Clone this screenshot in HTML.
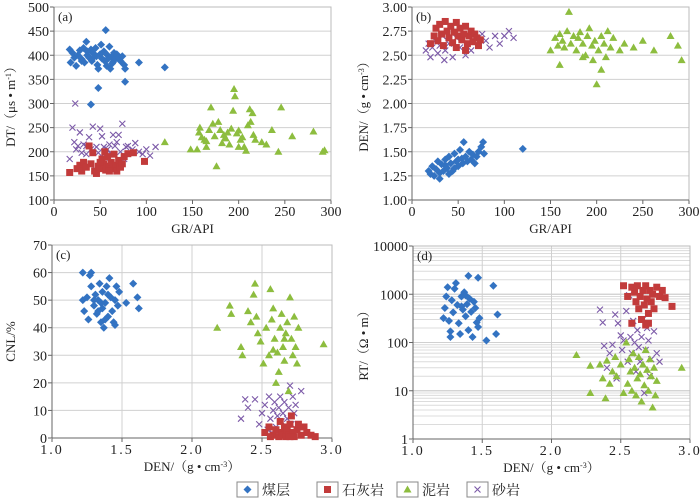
<!DOCTYPE html>
<html><head><meta charset="utf-8"><style>
html,body{margin:0;padding:0;background:#fff}
svg{display:block;font-family:"Liberation Serif","Noto Serif CJK SC",serif}
</style></head><body>
<svg id="chart" width="700" height="502" viewBox="0 0 700 502" xmlns="http://www.w3.org/2000/svg"></svg>
<script>
// Panel (a): GR vs DT
const aCoal=[17,412,18,385,20,405,22,395,24,378,26,400,28,410,30,392,32,415,33,385,35,428,36,400,38,395,40,412,41,388,42,405,44,398,45,415,47,380,48,372,50,402,51,422,52,393,54,408,55,388,56,452,57,378,58,400,60,418,61,372,62,396,64,386,65,405,66,392,68,402,70,395,72,388,74,398,76,380,77,372,77,345,48,332,40,298,92,385,120,375,30,388,36,408,46,398,58,392,63,383];
const aLime=[17,157,25,165,28,172,30,160,32,178,35,168,38,212,40,175,42,198,44,160,46,155,48,170,50,165,52,185,54,175,55,200,56,162,58,190,60,170,62,178,64,165,65,195,67,172,68,160,70,182,72,168,74,175,76,190,80,196,86,198,98,180,50,178,60,160];
const aMud=[120,220,148,205,155,205,157,240,158,250,160,230,163,225,165,210,168,245,170,292,172,258,174,232,176,170,178,262,180,245,182,218,184,235,186,228,188,240,190,215,192,248,194,285,195,330,196,315,198,238,200,210,202,225,204,230,206,210,208,202,210,255,212,288,213,262,215,280,216,235,218,225,225,220,230,215,236,245,243,200,246,292,258,232,281,242,291,200,293,203,165,222,185,228,200,244];
const aSand=[17,185,20,250,22,220,23,300,24,205,26,212,28,240,30,198,32,215,35,212,38,230,40,205,42,252,44,165,46,210,48,198,50,248,52,232,54,210,56,200,58,205,60,215,62,195,64,235,66,212,68,220,70,235,72,200,74,258,76,185,78,210,80,212,85,205,88,218,92,200,96,195,100,205,104,192,110,210,35,195,55,188];
// Panel (b): GR vs DEN
const bCoal=[18,1.30,20,1.27,22,1.35,24,1.25,26,1.32,28,1.40,30,1.28,32,1.37,34,1.30,36,1.42,38,1.33,40,1.45,42,1.38,44,1.30,46,1.48,48,1.40,50,1.35,52,1.52,54,1.43,55,1.38,56,1.60,58,1.45,60,1.40,62,1.50,64,1.42,66,1.47,68,1.38,70,1.45,72,1.50,75,1.55,77,1.60,78,1.48,120,1.53,30,1.22,40,1.27,50,1.42,36,1.36,46,1.33];
const bLime=[20,2.62,24,2.70,26,2.78,28,2.65,30,2.82,32,2.72,34,2.60,36,2.85,38,2.75,40,2.68,42,2.80,44,2.63,46,2.74,48,2.58,50,2.70,52,2.78,54,2.66,56,2.72,58,2.80,60,2.62,62,2.70,64,2.75,66,2.64,68,2.72,70,2.68,72,2.60,74,2.66,48,2.84,58,2.55];
const bMud=[150,2.55,155,2.68,158,2.60,160,2.72,163,2.65,165,2.58,168,2.75,170,2.95,172,2.62,175,2.70,178,2.55,180,2.68,182,2.74,185,2.62,188,2.50,190,2.70,192,2.78,195,2.60,196,2.45,198,2.65,200,2.20,202,2.55,205,2.70,208,2.62,210,2.48,212,2.75,215,2.58,218,2.68,225,2.55,230,2.62,240,2.58,250,2.65,262,2.55,280,2.70,288,2.60,292,2.45,160,2.40,185,2.48,205,2.35];
const bSand=[15,2.55,18,2.62,20,2.48,22,2.58,25,2.65,28,2.52,30,2.60,33,2.70,36,2.55,40,2.62,44,2.48,48,2.68,52,2.58,56,2.72,60,2.62,64,2.55,68,2.68,72,2.60,76,2.72,80,2.65,84,2.58,90,2.70,95,2.62,100,2.70,105,2.75,110,2.68,35,2.45,58,2.50];
// Panel (c): DEN vs CNL
const cCoal=[1.22,60,1.22,50,1.23,46,1.25,51,1.26,43,1.27,59,1.28,60,1.28,55,1.30,48,1.31,52,1.32,45,1.33,50,1.34,56,1.35,42,1.36,47,1.36,53,1.37,40,1.38,49,1.39,55,1.40,44,1.41,58,1.42,51,1.43,46,1.44,42,1.45,50,1.46,55,1.47,48,1.48,53,1.45,41,1.53,49,1.58,56,1.61,51,1.62,47,1.30,50,1.35,49,1.40,52,1.33,46,1.38,43];
const cLime=[2.52,2,2.55,4,2.58,1,2.60,3,2.62,0.5,2.63,6,2.64,2,2.65,1,2.66,4,2.67,0.5,2.68,3,2.69,1,2.70,5,2.71,8,2.72,2,2.73,0.5,2.75,3,2.76,5,2.78,1,2.80,4,2.82,2,2.85,1,2.88,0.5,2.56,0.5,2.70,0.5];
const cMud=[2.18,40,2.27,48,2.28,45,2.35,33,2.36,30,2.40,46,2.42,42,2.44,52,2.45,56,2.46,44,2.47,38,2.49,35,2.51,27,2.53,40,2.55,30,2.56,54,2.57,43,2.58,47,2.59,36,2.60,20,2.61,31,2.62,24,2.63,40,2.64,45,2.65,33,2.66,28,2.67,38,2.68,42,2.69,17,2.70,51,2.71,36,2.72,30,2.73,44,2.74,33,2.75,27,2.76,40,2.94,34,2.58,32,2.66,36];
const cSand=[2.35,7,2.38,14,2.40,11,2.45,14,2.48,5,2.50,9,2.52,12,2.54,3,2.55,15,2.56,7,2.58,10,2.59,13,2.60,4,2.61,8,2.62,11,2.63,15,2.64,6,2.65,9,2.66,13,2.67,3,2.68,7,2.69,11,2.70,19,2.71,5,2.72,15,2.73,9,2.74,12,2.78,17,2.60,1,2.57,2];
// Panel (d): DEN vs RT (log)
const dCoal=[1.22,320,1.23,520,1.24,900,1.25,1400,1.26,280,1.27,130,1.27,170,1.28,750,1.29,420,1.30,1300,1.31,1700,1.32,600,1.33,250,1.34,150,1.35,900,1.36,480,1.37,1100,1.38,350,1.39,620,1.40,2400,1.40,180,1.41,800,1.42,430,1.43,130,1.44,700,1.45,520,1.46,260,1.47,2200,1.47,210,1.48,320,1.53,110,1.58,1500,1.60,150,1.61,380,1.35,560,1.38,950];
const dLime=[2.52,1500,2.55,900,2.58,1400,2.60,1100,2.61,700,2.62,1500,2.63,500,2.64,900,2.65,300,2.66,1200,2.67,600,2.68,1500,2.69,800,2.70,400,2.70,250,2.71,1200,2.72,700,2.73,1000,2.74,500,2.76,1400,2.78,900,2.80,1200,2.82,850,2.87,560,2.58,250,2.68,230];
const dMud=[2.18,55,2.28,33,2.28,9,2.35,35,2.37,18,2.39,7,2.40,42,2.42,14,2.44,25,2.46,50,2.47,20,2.50,35,2.52,9,2.54,100,2.55,14,2.56,45,2.57,25,2.58,10,2.59,60,2.60,30,2.61,8,2.62,18,2.63,50,2.64,22,2.65,6,2.66,35,2.67,13,2.68,70,2.69,27,2.70,10,2.71,45,2.72,20,2.73,4.5,2.74,30,2.75,8,2.76,16,2.94,30];
const dSand=[2.35,480,2.37,260,2.38,85,2.40,30,2.42,60,2.44,90,2.46,380,2.47,18,2.48,250,2.50,140,2.51,70,2.52,110,2.54,450,2.55,40,2.56,950,2.57,130,2.58,60,2.59,280,2.60,100,2.61,25,2.62,180,2.63,80,2.64,40,2.65,130,2.66,300,2.67,9,2.68,70,2.69,200,2.70,110,2.71,20,2.72,45,2.74,170,2.76,60,2.78,40];

const legendLabels=["煤层","石灰岩","泥岩","砂岩"];
const colors=["#3373c2","#c23b3b","#8dbd3f","#7c5aa8"];
const NS="http://www.w3.org/2000/svg";
const svg=document.getElementById("chart");
function mk(tag,attrs,parent){const e=document.createElementNS(NS,tag);for(const k in attrs)e.setAttribute(k,attrs[k]);(parent||svg).appendChild(e);return e;}

function marker(g,type,x,y){
  let m;
  if(type===0){m=mk("path",{d:`M${x},${y-4}L${x+4},${y}L${x},${y+4}L${x-4},${y}Z`,fill:colors[0]},g);}
  else if(type===1){m=mk("rect",{x:x-3.5,y:y-3.5,width:7,height:7,fill:colors[1]},g);}
  else if(type===2){m=mk("path",{d:`M${x},${y-4}L${x+4},${y+3}L${x-4},${y+3}Z`,fill:colors[2]},g);}
  else {m=mk("path",{d:`M${x-3},${y-3}L${x+3},${y+3}M${x-3},${y+3}L${x+3},${y-3}`,stroke:colors[3],"stroke-width":1.1,fill:"none"},g);}
  return m;
}

function panel(o){
  const g=mk("g",{});
  
  
  const {x0,x1,y0,y1}=o;
  const sx=v=>x0+(v-o.xmin)/(o.xmax-o.xmin)*(x1-x0);
  const sy=o.log?(v=>y1-(Math.log10(v)-Math.log10(o.ymin))/(Math.log10(o.ymax)-Math.log10(o.ymin))*(y1-y0))
                :(v=>y1-(v-o.ymin)/(o.ymax-o.ymin)*(y1-y0));
  if(o.log){
    for(let d=1;d<o.ymax;d*=10){for(let k=1;k<10;k++){const y=sy(d*k);mk("line",{x1:x0,x2:x1,y1:y,y2:y,stroke:k===1?"#c8c8c8":"#dcdcdc","stroke-width":1},g);}}
  }
  o.yticks.forEach(v=>{const y=sy(v);mk("line",{x1:x0,x2:x1,y1:y,y2:y,stroke:"#d0d0d0"},g);
    const t=mk("text",{x:x0-5,y:y+5,"text-anchor":"end","font-size":14,fill:"#222"},g);t.textContent=o.yfmt(v);
    mk("line",{x1:x0-4,x2:x0,y1:y,y2:y,stroke:"#666"},g);});
  if(o.vgrid) o.xticks.forEach(v=>{const x=sx(v);mk("line",{x1:x,x2:x,y1:y0,y2:y1,stroke:"#d0d0d0"},g);});
  o.xticks.forEach(v=>{const x=sx(v);
    const t=mk("text",{x:x,y:y1+16,"text-anchor":"middle","font-size":14,fill:"#222","letter-spacing":o.xls||0},g);t.textContent=o.xfmt(v);
    mk("line",{x1:x,x2:x,y1:y1,y2:y1+4,stroke:"#666"},g);});
  mk("rect",{x:x0,y:y0,width:x1-x0,height:y1-y0,fill:"none",stroke:"#bbb"},g);
  mk("line",{x1:x0,x2:x0,y1:y0,y2:y1,stroke:"#666"},g);
  mk("line",{x1:x0,x2:x1,y1:y1,y2:y1,stroke:"#666"},g);
  const lab=mk("text",{x:x0+4,y:y0+14,"font-size":13,fill:"#222"},g);lab.textContent=o.label;
  const xt=mk("text",{x:(x0+x1)/2,y:y1+33,"text-anchor":"middle","font-size":13,fill:"#222"},g);xt.innerHTML=o.xtitle;
  
  const yt=mk("text",{x:0,y:0,"text-anchor":"middle","font-size":13,fill:"#222",transform:`translate(${o.ytx},${(y0+y1)/2}) rotate(-90)`},g);yt.innerHTML=o.ytitle;
  
  [o.series[3],o.series[1],o.series[2],o.series[0]].forEach((arr,ii)=>{
    const type=[3,1,2,0][ii];
    for(let i=0;i<arr.length;i+=2){const m=marker(g,type,sx(arr[i]),sy(arr[i+1]));
      
      }
  });
}
const fmt1=v=>v.toFixed(1), fmt0=v=>String(v), fmt2=v=>v.toFixed(2);
const denT="DEN/（g • cm<tspan baseline-shift='super' font-size='8'>-3</tspan>）";
panel({name:"panel-a",x0:54,x1:331,y0:7,y1:200,xmin:0,xmax:300,ymin:100,ymax:500,xticks:[0,50,100,150,200,250,300],yticks:[100,150,200,250,300,350,400,450,500],xfmt:fmt0,yfmt:fmt0,label:"(a)",xtitle:"GR/API",ytitle:"DT/（μs • m<tspan baseline-shift='super' font-size='8'>-1</tspan>）",ytx:15,series:[aCoal,aLime,aMud,aSand]});
panel({name:"panel-b",x0:412,x1:689,y0:7,y1:200,xmin:0,xmax:300,ymin:1,ymax:3,xticks:[0,50,100,150,200,250,300],yticks:[1,1.25,1.5,1.75,2,2.25,2.5,2.75,3],xfmt:fmt0,yfmt:fmt2,label:"(b)",xtitle:"GR/API",ytitle:denT,ytx:368,series:[bCoal,bLime,bMud,bSand]});
panel({name:"panel-c",x0:52,x1:332,y0:245,y1:438,xmin:1,xmax:3,ymin:0,ymax:70,xticks:[1,1.5,2,2.5,3],yticks:[0,10,20,30,40,50,60,70],xfmt:fmt1,yfmt:fmt0,xls:2,label:"(c)",xtitle:denT,ytitle:"CNL/%",ytx:15,series:[cCoal,cLime,cMud,cSand],vgrid:true});
panel({name:"panel-d",x0:413,x1:690,y0:246,y1:439,xmin:1,xmax:3,ymin:1,ymax:10000,log:true,xticks:[1,1.5,2,2.5,3],yticks:[1,10,100,1000,10000],xfmt:fmt1,yfmt:fmt0,xls:2,label:"(d)",xtitle:denT,ytitle:"RT/（Ω • m）",ytx:368,series:[dCoal,dLime,dMud,dSand],vgrid:true});

const lg=mk("g",{});


const lx=[237,317,397,467];
legendLabels.forEach((name,i)=>{
  const it=mk("g",{},lg);
  
  
  mk("rect",{x:lx[i],y:482,width:21,height:15,fill:"#fff",stroke:"#888"},it);
  marker(it,i,lx[i]+10.5,489.5);
  const t=mk("text",{x:lx[i]+25,y:495,"font-size":14,fill:"#222"},it);t.textContent=name;
});
</script>
</body></html>
